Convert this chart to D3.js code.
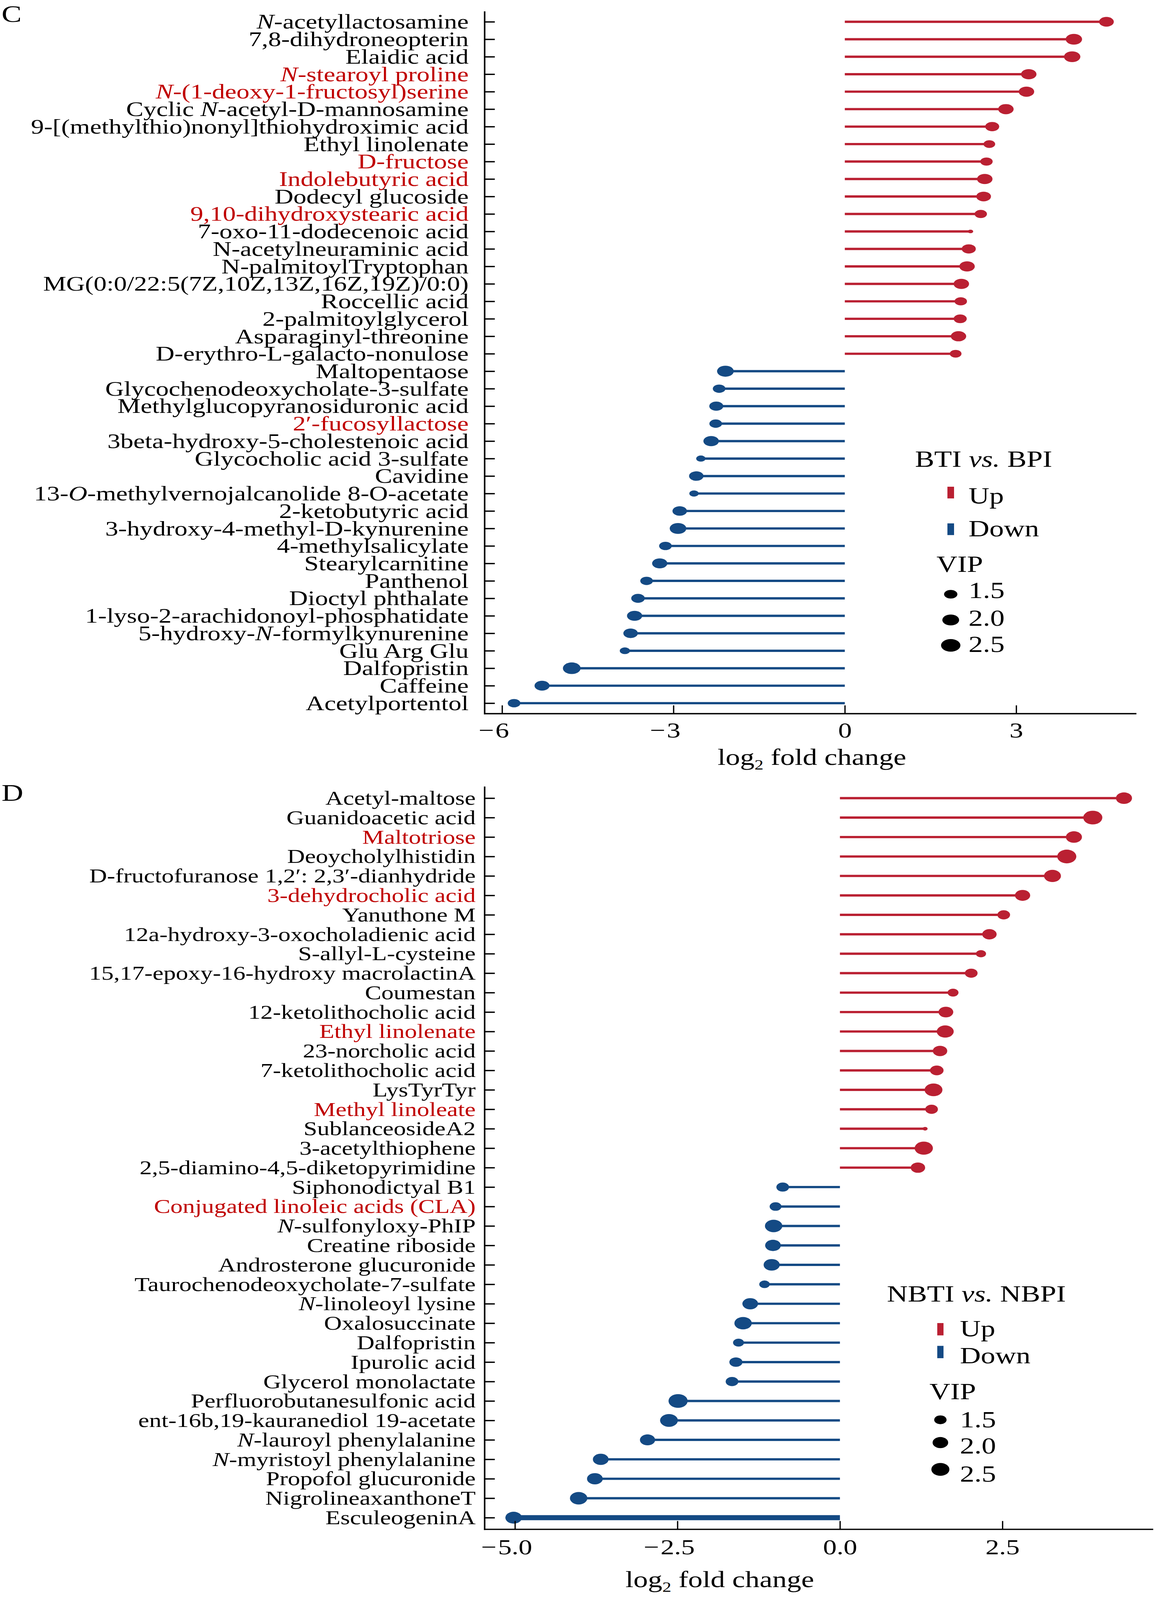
<!DOCTYPE html>
<html>
<head>
<meta charset="utf-8">
<script src="https://cdn.jsdelivr.net/npm/d3@7"></script>
<style>
  html, body { margin: 0; height: 100%; overflow: hidden; background: #fff; }
  #chart { display: block; width: 100vw; height: 100vh; }
</style>
</head>
<body>
<svg id="chart"></svg>
<script>
// ---- panel C : BTI vs. BPI (top to bottom) ----
const namesC = [
  "<i>N</i>-acetyllactosamine", "7,8-dihydroneopterin", "Elaidic acid", "<i>N</i>-stearoyl proline",
  "<i>N</i>-(1-deoxy-1-fructosyl)serine", "Cyclic <i>N</i>-acetyl-D-mannosamine",
  "9-[(methylthio)nonyl]thiohydroximic acid", "Ethyl linolenate", "D-fructose", "Indolebutyric acid",
  "Dodecyl glucoside", "9,10-dihydroxystearic acid", "7-oxo-11-dodecenoic acid", "N-acetylneuraminic acid",
  "N-palmitoylTryptophan", "MG(0:0/22:5(7Z,10Z,13Z,16Z,19Z)/0:0)", "Roccellic acid", "2-palmitoylglycerol",
  "Asparaginyl-threonine", "D-erythro-L-galacto-nonulose",
  "Maltopentaose", "Glycochenodeoxycholate-3-sulfate", "Methylglucopyranosiduronic acid", "2\u2032-fucosyllactose",
  "3beta-hydroxy-5-cholestenoic acid", "Glycocholic acid 3-sulfate", "Cavidine",
  "13-<i>O</i>-methylvernojalcanolide 8-O-acetate", "2-ketobutyric acid", "3-hydroxy-4-methyl-D-kynurenine",
  "4-methylsalicylate", "Stearylcarnitine", "Panthenol", "Dioctyl phthalate",
  "1-lyso-2-arachidonoyl-phosphatidate", "5-hydroxy-<i>N</i>-formylkynurenine", "Glu Arg Glu",
  "Dalfopristin", "Caffeine", "Acetylportentol"
]
const fcC = [
  4.58, 4.01, 3.98, 3.22, 3.18, 2.82, 2.58, 2.53, 2.48, 2.45,
  2.43, 2.38, 2.20, 2.17, 2.14, 2.04, 2.03, 2.02, 1.99, 1.94,
  -2.09, -2.20, -2.25, -2.26, -2.34, -2.52, -2.60, -2.64, -2.89, -2.92,
  -3.14, -3.24, -3.47, -3.62, -3.68, -3.75, -3.85, -4.78, -5.30, -5.79
]
const vipC = [
  1.72, 1.98, 1.98, 1.83, 1.83, 1.83, 1.62, 1.35, 1.42, 1.83,
  1.72, 1.42, 1.04, 1.62, 1.83, 1.83, 1.42, 1.50, 1.83, 1.35,
  2.04, 1.45, 1.62, 1.45, 1.83, 1.16, 1.68, 1.16, 1.68, 2.02,
  1.45, 1.79, 1.45, 1.56, 1.79, 1.68, 1.22, 2.22, 1.76, 1.45
]
const redC = ["<i>N</i>-stearoyl proline", "<i>N</i>-(1-deoxy-1-fructosyl)serine", "D-fructose",
  "Indolebutyric acid", "9,10-dihydroxystearic acid", "2\u2032-fucosyllactose"]
const ticksC = [-6, -3, 0, 3]
const limC = [-6.305, 5.105]

// ---- panel D : NBTI vs. NBPI ----
const namesD = [
  "Acetyl-maltose", "Guanidoacetic acid", "Maltotriose", "Deoycholylhistidin",
  "D-fructofuranose 1,2\u2032: 2,3\u2032-dianhydride", "3-dehydrocholic acid", "Yanuthone M",
  "12a-hydroxy-3-oxocholadienic acid", "S-allyl-L-cysteine", "15,17-epoxy-16-hydroxy macrolactinA",
  "Coumestan", "12-ketolithocholic acid", "Ethyl linolenate", "23-norcholic acid", "7-ketolithocholic acid",
  "LysTyrTyr", "Methyl linoleate", "SublanceosideA2", "3-acetylthiophene", "2,5-diamino-4,5-diketopyrimidine",
  "Siphonodictyal B1", "Conjugated linoleic acids (CLA)", "<i>N</i>-sulfonyloxy-PhIP", "Creatine riboside",
  "Androsterone glucuronide", "Taurochenodeoxycholate-7-sulfate", "<i>N</i>-linoleoyl lysine", "Oxalosuccinate",
  "Dalfopristin", "Ipurolic acid", "Glycerol monolactate", "Perfluorobutanesulfonic acid",
  "ent-16b,19-kauranediol 19-acetate", "<i>N</i>-lauroyl phenylalanine", "<i>N</i>-myristoyl phenylalanine",
  "Propofol glucuronide", "NigrolineaxanthoneT", "EsculeogeninA"
]
const fcD = [
  4.37, 3.89, 3.60, 3.49, 3.27, 2.81, 2.52, 2.30, 2.17, 2.02,
  1.74, 1.63, 1.62, 1.54, 1.49, 1.44, 1.41, 1.31, 1.29, 1.20,
  -0.88, -0.99, -1.02, -1.03, -1.05, -1.16, -1.38, -1.49, -1.56, -1.60,
  -1.66, -2.49, -2.63, -2.96, -3.68, -3.77, -4.02, -5.02
]
const vipD = [
  2.12, 2.80, 2.12, 2.80, 2.30, 1.96, 1.56, 1.82, 1.27, 1.56,
  1.35, 1.89, 2.30, 1.82, 1.68, 2.49, 1.56, 1.04, 2.59, 1.82,
  1.56, 1.45, 2.39, 2.05, 2.13, 1.31, 2.05, 2.39, 1.35, 1.62,
  1.56, 2.80, 2.49, 1.96, 2.05, 2.05, 2.39, 2.21
]
const redD = ["Maltotriose", "3-dehydrocholic acid", "Ethyl linolenate", "Methyl linoleate",
  "Conjugated linoleic acids (CLA)"]
const ticksD = [-5, -2.5, 0, 2.5]
const limD = [-5.466, 4.82]

const vipBreaks = [1.5, 2.0, 2.5]
const groups = ["Up", "Down"]

const upCol = "#BA2032", downCol = "#144A84", hiCol = "#C00000"
const font = "'Liberation Serif', 'Times New Roman', serif"

// fixed drawing space, stretched to whatever window photographs it
const svg = d3.select("#chart")
  .attr("viewBox", "0 0 2955 5194")
  .attr("preserveAspectRatio", "none")
  .style("font-family", font)

// split "<i>..</i>" markup into italic tspans
function rich(text, s) {
  text.text(null)
  s.split(/(<i>.*?<\/i>)/).filter(d => d).forEach(part => {
    const it = part.startsWith("<i>")
    text.append("tspan").attr("font-style", it ? "italic" : null)
      .text(it ? part.slice(3, -4) : part)
  })
}

function panel(p) {
  const g = svg.append("g")
  const x = d3.scaleLinear().domain(p.lim).range([p.left, p.right])
  const y = d3.scalePoint().domain(p.names).range([p.top, p.bottom])
  const yTop = p.top - 0.6 * y.step(), yBot = p.bottom + 0.6 * y.step()
  const vmin = d3.min(p.vip)
  const size = d3.scaleSqrt().domain([0, 2.5 - vmin]).range(p.sizeRange)
  const rows = p.names.map((n, i) => ({name: n, fc: p.fc[i], vip: p.vip[i]}))

  // stems
  g.append("g").selectAll("line").data(rows).join("line")
    .attr("x1", x(0)).attr("x2", d => x(d.fc))
    .attr("y1", d => y(d.name)).attr("y2", d => y(d.name))
    .attr("stroke", d => d.fc > 0 ? upCol : downCol)
    .attr("stroke-width", d => p.thick.includes(d.name) ? 16.5 : 7.5)

  // heads, size = VIP
  g.append("g").selectAll("ellipse").data(rows).join("ellipse")
    .attr("cx", d => x(d.fc)).attr("cy", d => y(d.name))
    .attr("ry", d => size(d.vip - vmin) / 2)
    .attr("rx", d => size(d.vip - vmin) / 2 * p.aspect)
    .attr("fill", d => d.fc > 0 ? upCol : downCol)

  // y axis
  const ya = g.append("g").attr("transform", `translate(${p.left},0)`)
    .call(d3.axisLeft(y).tickSizeInner(-26).tickSizeOuter(0).tickPadding(p.labelPad))
    .attr("font-family", font).attr("font-size", p.labelSize)
  ya.select(".domain").remove()
  ya.selectAll(".tick line").attr("stroke-width", 4.3)
  ya.selectAll(".tick text")
    .attr("fill", d => p.red.includes(d) ? hiCol : "#000")
    .attr("dy", "0.33em")
    .each(function (d) { rich(d3.select(this), d) })

  // x axis (labels sit tickBase below the axis line)
  const xa = g.append("g").attr("transform", `translate(0,${yBot})`)
    .call(d3.axisBottom(x).tickValues(p.ticks).tickSizeInner(-27).tickSizeOuter(0)
      .tickFormat(d => d3.format(p.fmt)(Math.abs(d))))
    .attr("font-family", font).attr("font-size", 70)
  xa.select(".domain").remove()
  xa.selectAll(".tick line").attr("stroke-width", 3.3)
  xa.selectAll(".tick text").attr("y", p.tickBase).attr("dy", null).attr("fill", "#000")
  xa.selectAll(".tick").filter(d => d < 0).each(function () {
    const t = d3.select(this)
    const w = t.select("text").node().getComputedTextLength()
    t.append("text").attr("x", -w / 2 - 4).attr("y", p.tickBase)
      .attr("text-anchor", "end").attr("fill", "#000").text("\u2212")
  })

  // axis lines
  g.append("line").attr("x1", p.left).attr("x2", p.left).attr("y1", yTop).attr("y2", yBot + 2)
    .attr("stroke", "#000").attr("stroke-width", 4)
  g.append("line").attr("x1", p.left - 2).attr("x2", p.right).attr("y1", yBot).attr("y2", yBot)
    .attr("stroke", "#000").attr("stroke-width", 4.3)

  // axis title
  const tt = g.append("text").attr("x", p.titleX).attr("y", p.titleY)
    .attr("text-anchor", "middle").attr("font-size", 74)
  tt.append("tspan").text("log")
  tt.append("tspan").attr("font-size", 46).attr("dy", 15).text("2")
  tt.append("tspan").attr("dy", -15).text(" fold change")

  // panel letter
  g.append("text").attr("x", 4).attr("y", p.letterY).attr("font-size", 77).text(p.letter)

  // legend
  const L = p.legend
  const lg = g.append("g").attr("font-size", 74)
  rich(lg.append("text").attr("x", L.titleX).attr("y", L.titleY), p.legendTitle)
  groups.forEach((k, i) => {
    lg.append("rect").attr("x", L.keyX).attr("width", L.keyW)
      .attr("y", L.keyY[i] - L.keyH / 2).attr("height", L.keyH)
      .attr("fill", i === 0 ? upCol : downCol)
    lg.append("text").attr("x", L.textX).attr("y", L.keyText[i]).text(k)
  })
  lg.append("text").attr("x", L.vipX).attr("y", L.vipY).text("VIP")
  vipBreaks.forEach((v, i) => {
    const h = size(v - vmin)
    lg.append("ellipse").attr("cx", L.dotX).attr("cy", L.dotY[i])
      .attr("ry", h / 2).attr("rx", h / 2 * p.legendAspect).attr("fill", "#000")
    lg.append("text").attr("x", L.textX).attr("y", L.dotText[i]).text(d3.format(".1f")(v))
  })
}

panel({
  letter: "C", letterY: 71,
  names: namesC, fc: fcC, vip: vipC, red: redC, thick: [],
  lim: limC, ticks: ticksC, fmt: "d",
  left: 1241, right: 2910, top: 70.7, bottom: 2282.7,
  labelSize: 66.5, labelPad: 41, tickBase: 77,
  titleX: 2079, titleY: 2483,
  sizeRange: [11.6, 40.7], aspect: 1.2, legendAspect: 1.22,
  legendTitle: "BTI <i>vs.</i> BPI",
  legend: {titleX: 2343, titleY: 1515, keyX: 2426, keyW: 17, keyH: 38,
    keyY: [1599, 1718], keyText: [1634, 1741], textX: 2480,
    vipX: 2398, vipY: 1856, dotX: 2434.5,
    dotY: [1929, 2012.6, 2095], dotText: [1941.5, 2031, 2117]}
})

panel({
  letter: "D", letterY: 2599,
  names: namesD, fc: fcD, vip: vipD, red: redD, thick: ["EsculeogeninA"],
  lim: limD, ticks: ticksD, fmt: ".1f",
  left: 1241, right: 2953, top: 2591, bottom: 4926.7,
  labelSize: 63, labelPad: 23, tickBase: 80.5,
  titleX: 1843, titleY: 5152,
  sizeRange: [11.8, 41.6], aspect: 1.1, legendAspect: 1.11,
  legendTitle: "NBTI <i>vs.</i> NBPI",
  legend: {titleX: 2271, titleY: 4225, keyX: 2400, keyW: 16, keyH: 40,
    keyY: [4315, 4389], keyText: [4338, 4426], textX: 2458,
    vipX: 2380, vipY: 4542, dotX: 2408,
    dotY: [4609, 4683, 4770], dotText: [4633, 4718, 4810]}
})
</script>
</body>
</html>
